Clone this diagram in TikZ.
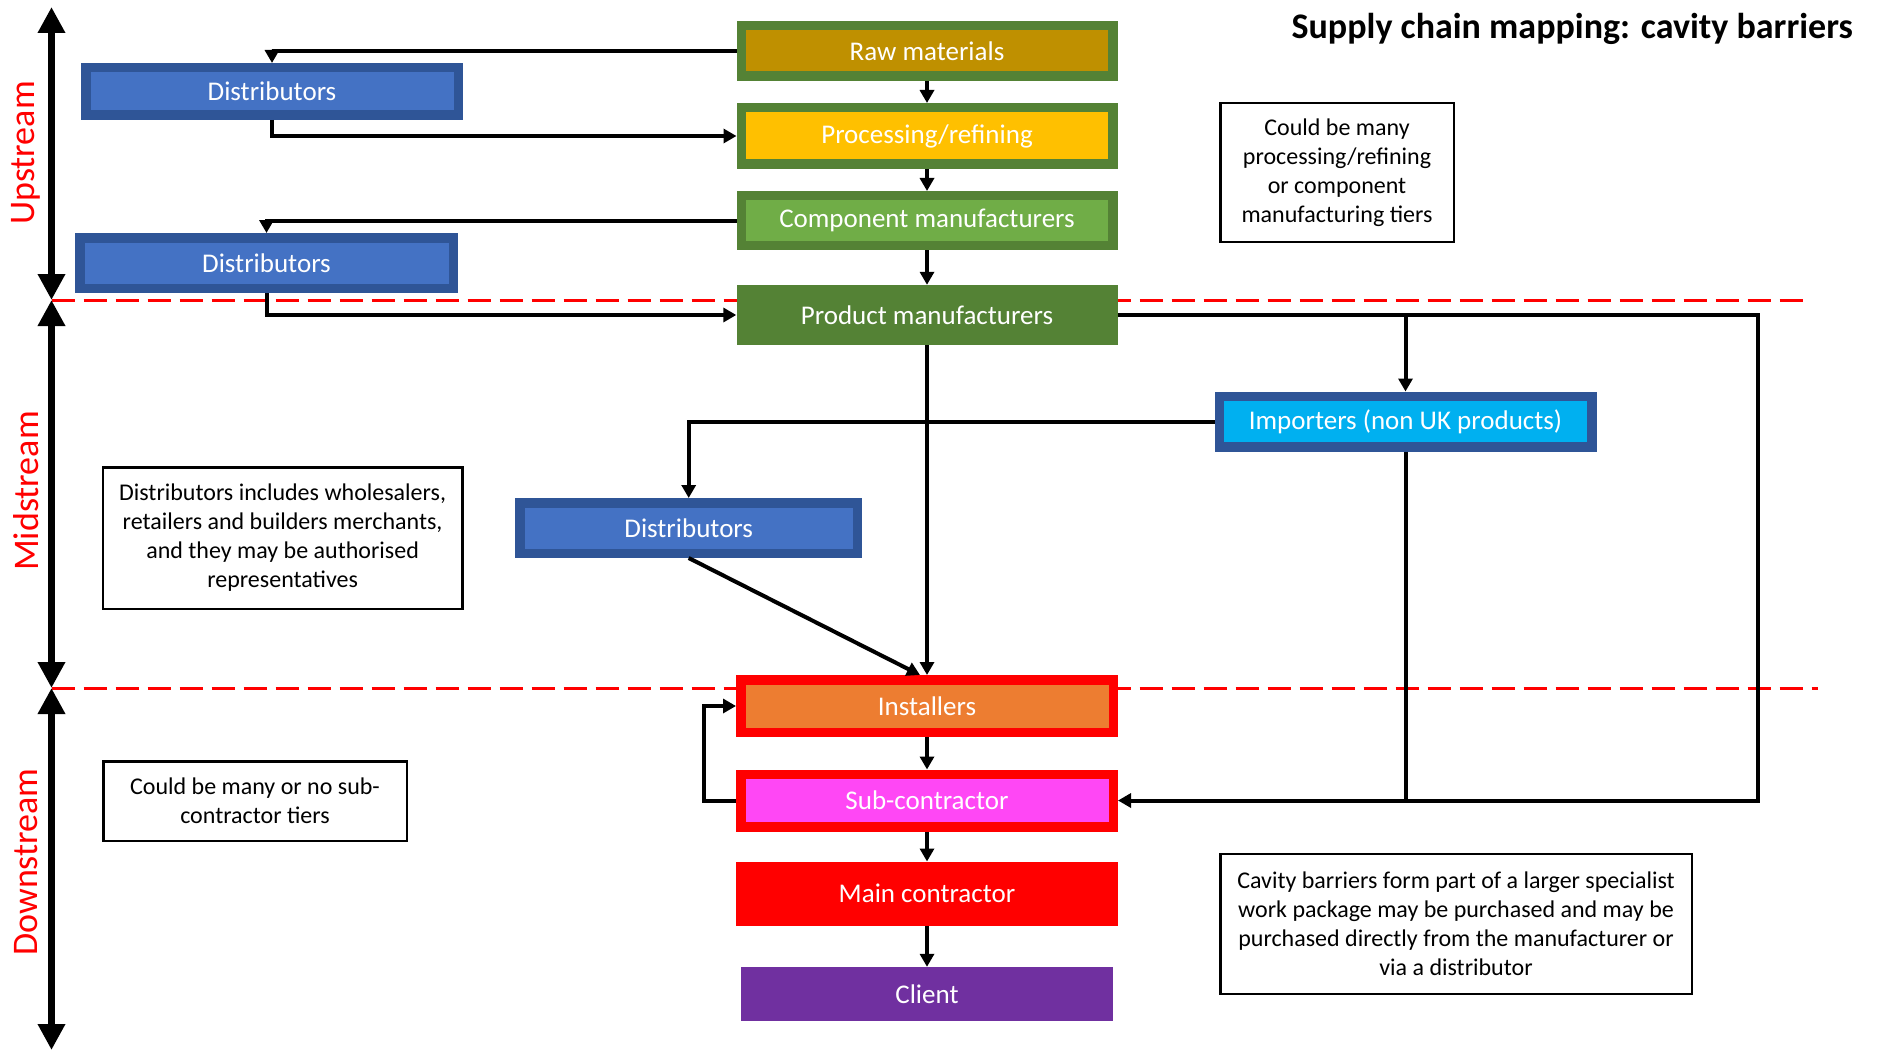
\documentclass[tikz,border=0pt]{standalone}
\usepackage{fontspec}
\setmainfont{Carlito}
\usetikzlibrary{arrows.meta}
\definecolor{leaf}{HTML}{548235}
\definecolor{ochre}{HTML}{BF9000}
\definecolor{amber}{HTML}{FFC000}
\definecolor{lime}{HTML}{70AD47}
\definecolor{navyedge}{HTML}{2F5597}
\definecolor{steel}{HTML}{4472C4}
\definecolor{sky}{HTML}{00B0F0}
\definecolor{tang}{HTML}{ED7D31}
\definecolor{pinkfill}{HTML}{FF47F5}
\definecolor{grape}{HTML}{7030A0}
\definecolor{signal}{HTML}{FF0000}
\begin{document}
\begin{tikzpicture}[x=1pt,y=-1pt,
  lbl/.style={font=\fontsize{27}{32}\selectfont, text=white, inner sep=0pt, align=center},
  framed/.style={lbl, draw, line width=9.5pt},
  note/.style={draw, line width=2.5pt, font=\fontsize{24}{29}\selectfont, align=center, inner sep=0pt},
  conn/.style={line width=4pt, -{Triangle[width=14pt,length=13pt]}},
  link/.style={line width=4pt},
  tier/.style={draw=signal, line width=3pt, dash pattern=on 23pt off 9pt},
  span/.style={line width=7pt, {Triangle[width=26pt,length=26pt]}-{Triangle[width=26pt,length=26pt]}},
  stage/.style={text=signal, rotate=90, font=\fontsize{36}{40}\selectfont, inner sep=0pt}
]
\useasboundingbox (0,0) rectangle (1878,1051);

% tier boundaries
\coordinate (t1l) at (51.5,300);
\coordinate (t1r) at (1811,300);
\coordinate (t2l) at (51.5,688);
\coordinate (t2r) at (1818,688);
\draw[tier] (t1l) -- (t1r);
\draw[tier] (t2l) -- (t2r);

% stage spans
\coordinate (s0) at (51.5,7);
\coordinate (s3) at (51.5,1050);
\draw[span] (s0) -- (t1l);
\draw[span] (t1l) -- (t2l);
\draw[span] (t2l) -- (s3);
\node[stage] (up) at (26,153) {Upstream};
\node[stage] (mid) at (26,491) {Midstream};
\node[stage] (down) at (26,862) {Downstream};

% title
\node[anchor=east, font=\fontsize{36}{42}\selectfont\bfseries, inner sep=0pt] (title) at (1853,29) {Supply chain mapping: cavity barriers};

% main column
\node[framed, draw=leaf, fill=ochre, minimum width=371.5, minimum height=50.5] (raw) at (927,51) {Raw materials};
\node[framed, draw=leaf, fill=amber, minimum width=371.5, minimum height=56.5] (proc) at (927,136) {Processing/refining};
\node[framed, draw=leaf, fill=lime, minimum width=371.5, minimum height=49.5] (comp) at (927,220.5) {Component manufacturers};
\node[lbl, fill=leaf, minimum width=381, minimum height=60] (prod) at (927,315) {Product manufacturers};
\node[framed, draw=signal, fill=tang, minimum width=372.5, minimum height=52.5] (inst) at (927,706) {Installers};
\node[framed, draw=signal, fill=pinkfill, minimum width=372.5, minimum height=52.5] (sub) at (927,800.5) {Sub-contractor};
\node[lbl, fill=signal, minimum width=382, minimum height=64] (main) at (927,893.7) {Main contractor};
\node[lbl, fill=grape, minimum width=372, minimum height=54] (client) at (927,994) {Client};

% side boxes
\node[framed, draw=navyedge, fill=steel, minimum width=372.5, minimum height=47.5] (d1) at (272,91.5) {Distributors};
\node[framed, draw=navyedge, fill=steel, minimum width=373.5, minimum height=50.5] (d2) at (266.5,263) {Distributors};
\node[framed, draw=navyedge, fill=steel, minimum width=337.5, minimum height=50.5] (d3) at (688.7,528) {Distributors};
\node[framed, draw=navyedge, fill=sky, minimum width=372.5, minimum height=50.5] (imp) at (1405.5,421.5) {Importers (non UK products)};

% notes
\node[note, minimum width=233.5, minimum height=138.5] (n1) at (1337,172.5) {Could be many\\processing/refining\\or component\\manufacturing tiers};
\node[note, minimum width=359.5, minimum height=141.5] (n2) at (282.6,538) {Distributors includes wholesalers,\\retailers and builders merchants,\\and they may be authorised\\representatives};
\node[note, minimum width=303.5, minimum height=79.5] (n3) at (255,801) {Could be many or no sub-\\contractor tiers};
\node[note, minimum width=471.5, minimum height=140] (n4) at (1456,924) {Cavity barriers form part of a larger specialist\\work package may be purchased and may be\\purchased directly from the manufacturer or\\via a distributor};

% flows
\draw[conn] (raw) -- (proc);
\draw[conn] (proc) -- (comp);
\draw[conn] (comp) -- (prod);
\draw[conn] (raw.west) -| (d1.north);
\draw[conn] (d1.south) |- (proc.west);
\draw[conn] (comp.west) -| (d2.north);
\draw[conn] (d2.south) |- (prod.west);
\draw[conn] (prod.south) -- (inst.north);
\draw[conn] (d3.south) -- ([xshift=-7pt]inst.north);
\coordinate (rturn) at (1758,315);
\coordinate (rdown) at (1758,800.5);
\draw[conn] (prod.east) -- (rturn) -- (rdown) -- (sub.east);
\draw[conn] (prod.east -| imp.north) -- (imp.north);
\draw[link] (imp.south) -- (imp.south |- sub.east);
\draw[conn] (imp.west) -| (d3.north);
\draw[conn] (inst) -- (sub);
\draw[conn] (sub) -- (main);
\draw[conn] (main) -- (client);
\draw[conn] (sub.west) -- ++(-32,0) |- (inst.west);
\end{tikzpicture}
\end{document}
